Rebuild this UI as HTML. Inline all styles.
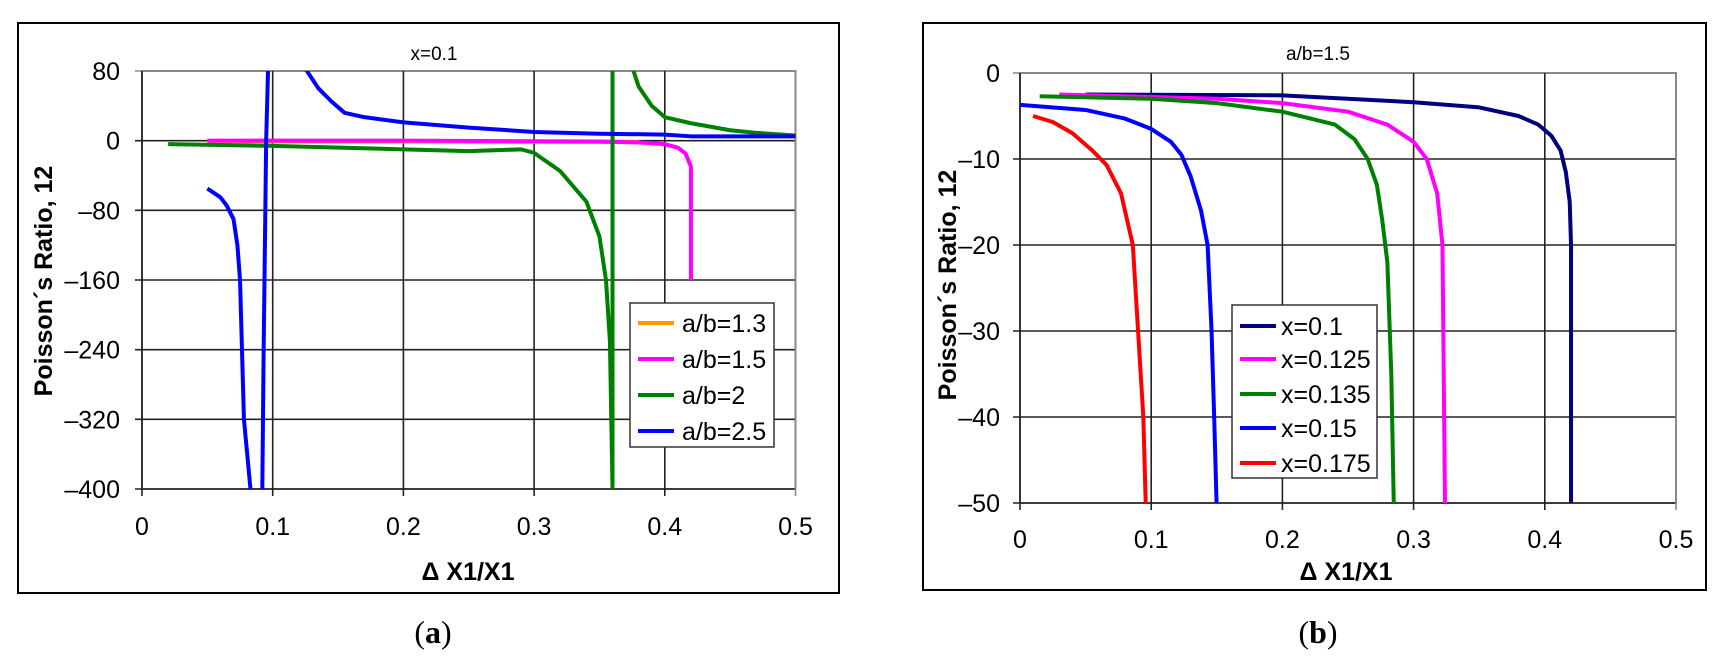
<!DOCTYPE html>
<html><head><meta charset="utf-8"><style>
html,body{margin:0;padding:0;background:#fff;}
svg{display:block;font-family:"Liberation Sans",Arial,sans-serif;}
</style></head><body>
<svg width="1724" height="663" viewBox="0 0 1724 663" xmlns="http://www.w3.org/2000/svg">
<defs>
<clipPath id="ca"><rect x="142" y="71" width="654" height="418"/></clipPath>
<clipPath id="cb"><rect x="1020" y="73" width="656" height="430"/></clipPath>
</defs>
<!-- Chart A -->
<rect x="18" y="23" width="821" height="570" fill="#fff" stroke="#000" stroke-width="2"/>
<rect x="142" y="71" width="653.5" height="418" fill="none" stroke="#888" stroke-width="2"/>
<g stroke="#222" stroke-width="1.6">
<line x1="135" y1="71" x2="795" y2="71" stroke="#888"/>
<line x1="135" y1="140.7" x2="795" y2="140.7"/>
<line x1="135" y1="210.3" x2="795" y2="210.3"/>
<line x1="135" y1="280" x2="795" y2="280"/>
<line x1="135" y1="349.7" x2="795" y2="349.7"/>
<line x1="135" y1="419.3" x2="795" y2="419.3"/>
<line x1="135" y1="489" x2="795" y2="489"/>
<line x1="142" y1="71" x2="142" y2="496"/>
<line x1="272.7" y1="71" x2="272.7" y2="496"/>
<line x1="403.4" y1="71" x2="403.4" y2="496"/>
<line x1="534.1" y1="71" x2="534.1" y2="496"/>
<line x1="664.8" y1="71" x2="664.8" y2="496"/>
<line x1="795.5" y1="71" x2="795.5" y2="496" stroke="#888"/>
</g>
<g clip-path="url(#ca)"><g transform="matrix(1307 0 0 -0.87083 142 140.67)" fill="none" stroke-width="4" stroke-linejoin="round" vector-effect="non-scaling-stroke">
<polyline vector-effect="non-scaling-stroke" stroke="#ff9900" points="0.05,-1 0.2,-1 0.38,-1.5"/>
<polyline vector-effect="non-scaling-stroke" stroke="#ff00ff" points="0.05,0 0.2,0 0.35,-1 0.38,-2 0.40,-4 0.41,-8 0.416,-15 0.42,-30 0.42,-160"/>
<polyline vector-effect="non-scaling-stroke" stroke="#008000" points="0.02,-4 0.1,-6 0.2,-10 0.25,-12 0.29,-10 0.30,-14 0.32,-35 0.34,-70 0.35,-110 0.355,-160 0.358,-230 0.36,-400"/>
<line vector-effect="non-scaling-stroke" stroke="#008000" x1="0.36" y1="90" x2="0.36" y2="-410"/>
<polyline vector-effect="non-scaling-stroke" stroke="#008000" points="0.375,85 0.38,62 0.39,40 0.40,27 0.42,20 0.45,12 0.47,9 0.5,6"/>
<polyline vector-effect="non-scaling-stroke" stroke="#0000ff" points="0.05,-55 0.06,-65 0.065,-75 0.07,-90 0.073,-120 0.075,-160 0.078,-320 0.083,-400"/>
<polyline vector-effect="non-scaling-stroke" stroke="#0000ff" points="0.092,-410 0.093,-250 0.095,0 0.0965,85"/>
<polyline vector-effect="non-scaling-stroke" stroke="#0000ff" points="0.124,85 0.135,60 0.145,45 0.155,32 0.17,27 0.2,21 0.25,15 0.3,10 0.35,8 0.4,7 0.42,5 0.5,5"/>
</g></g>
<g font-size="25" text-anchor="end" fill="#000">
<text x="120" y="80">80</text><text x="120" y="149.7">0</text><text x="120" y="219.3">–80</text>
<text x="120" y="289">–160</text><text x="120" y="358.7">–240</text><text x="120" y="428.3">–320</text><text x="120" y="498">–400</text>
</g>
<g font-size="25" text-anchor="middle">
<text x="142" y="535">0</text><text x="272.7" y="535">0.1</text><text x="403.4" y="535">0.2</text>
<text x="534.1" y="535">0.3</text><text x="664.8" y="535">0.4</text><text x="795.5" y="535">0.5</text>
</g>
<text x="434" y="60" font-size="19" text-anchor="middle">x=0.1</text>
<text x="468" y="580" font-size="25" font-weight="bold" text-anchor="middle">Δ X1/X1</text>
<text transform="translate(52,281) rotate(-90)" font-size="25" font-weight="bold" text-anchor="middle">Poisson´s Ratio, 12</text>
<rect x="630" y="303" width="144" height="144" fill="#fff" stroke="#333" stroke-width="1.5"/>
<g stroke-width="4"><line x1="638" y1="323" x2="674" y2="323" stroke="#ff9900"/><line x1="638" y1="359" x2="674" y2="359" stroke="#ff00ff"/><line x1="638" y1="395" x2="674" y2="395" stroke="#008000"/><line x1="638" y1="431" x2="674" y2="431" stroke="#0000ff"/></g>
<g font-size="25"><text x="682" y="332">a/b=1.3</text><text x="682" y="368">a/b=1.5</text><text x="682" y="404">a/b=2</text><text x="682" y="440">a/b=2.5</text></g>
<text x="433" y="643" font-size="32" text-anchor="middle" font-family="Liberation Serif,serif">(<tspan font-weight="bold">a</tspan>)</text>

<!-- Chart B -->
<rect x="923" y="23" width="783" height="567" fill="#fff" stroke="#000" stroke-width="2"/>
<rect x="1020" y="73" width="656" height="430" fill="none" stroke="#888" stroke-width="2"/>
<g stroke="#222" stroke-width="1.6">
<line x1="1013" y1="73" x2="1676" y2="73" stroke="#888"/>
<line x1="1013" y1="159" x2="1676" y2="159"/>
<line x1="1013" y1="245" x2="1676" y2="245"/>
<line x1="1013" y1="331" x2="1676" y2="331"/>
<line x1="1013" y1="417" x2="1676" y2="417"/>
<line x1="1013" y1="503" x2="1676" y2="503"/>
<line x1="1020" y1="73" x2="1020" y2="510"/>
<line x1="1151.2" y1="73" x2="1151.2" y2="510"/>
<line x1="1282.4" y1="73" x2="1282.4" y2="510"/>
<line x1="1413.6" y1="73" x2="1413.6" y2="510"/>
<line x1="1544.8" y1="73" x2="1544.8" y2="510"/>
<line x1="1676" y1="73" x2="1676" y2="510" stroke="#888"/>
</g>
<g clip-path="url(#cb)"><g transform="matrix(1312 0 0 -8.6 1020 73)" fill="none" stroke-width="4" stroke-linejoin="round">
<polyline vector-effect="non-scaling-stroke" stroke="#000080" points="0.05,-2.5 0.2,-2.6 0.3,-3.4 0.35,-4 0.38,-5 0.395,-6 0.405,-7.3 0.412,-9 0.416,-11.5 0.419,-15 0.42,-20 0.42,-51"/>
<polyline vector-effect="non-scaling-stroke" stroke="#ff00ff" points="0.03,-2.5 0.15,-3 0.2,-3.5 0.25,-4.5 0.28,-6 0.3,-8 0.31,-10 0.318,-14 0.322,-20 0.324,-51"/>
<polyline vector-effect="non-scaling-stroke" stroke="#008000" points="0.015,-2.7 0.1,-3 0.15,-3.5 0.2,-4.5 0.24,-6 0.255,-7.7 0.265,-10 0.272,-13 0.276,-17 0.28,-22 0.283,-35 0.285,-51"/>
<polyline vector-effect="non-scaling-stroke" stroke="#0000ff" points="0,-3.7 0.05,-4.3 0.08,-5.3 0.1,-6.5 0.115,-8 0.123,-9.5 0.13,-12 0.138,-16 0.143,-20 0.146,-30 0.148,-40 0.15,-51"/>
<polyline vector-effect="non-scaling-stroke" stroke="#ff0000" points="0.01,-5 0.025,-5.7 0.04,-7 0.055,-9 0.066,-10.7 0.077,-14 0.086,-20 0.09,-30 0.094,-40 0.096,-51"/>
</g></g>
<g font-size="25" text-anchor="end">
<text x="1000" y="82">0</text><text x="1000" y="168">–10</text><text x="1000" y="254">–20</text>
<text x="1000" y="340">–30</text><text x="1000" y="426">–40</text><text x="1000" y="512">–50</text>
</g>
<g font-size="25" text-anchor="middle">
<text x="1020" y="548">0</text><text x="1151.2" y="548">0.1</text><text x="1282.4" y="548">0.2</text>
<text x="1413.6" y="548">0.3</text><text x="1544.8" y="548">0.4</text><text x="1676" y="548">0.5</text>
</g>
<text x="1318" y="60" font-size="19" text-anchor="middle">a/b=1.5</text>
<text x="1346" y="580" font-size="25" font-weight="bold" text-anchor="middle">Δ X1/X1</text>
<text transform="translate(956,285) rotate(-90)" font-size="25" font-weight="bold" text-anchor="middle">Poisson´s Ratio, 12</text>
<rect x="1232" y="305" width="145" height="173" fill="#fff" stroke="#333" stroke-width="1.5"/>
<g stroke-width="4"><line x1="1240" y1="326" x2="1276" y2="326" stroke="#000080"/><line x1="1240" y1="359" x2="1276" y2="359" stroke="#ff00ff"/><line x1="1240" y1="394" x2="1276" y2="394" stroke="#008000"/><line x1="1240" y1="428" x2="1276" y2="428" stroke="#0000ff"/><line x1="1240" y1="463" x2="1276" y2="463" stroke="#ff0000"/></g>
<g font-size="25"><text x="1281" y="335">x=0.1</text><text x="1281" y="368">x=0.125</text><text x="1281" y="403">x=0.135</text><text x="1281" y="437">x=0.15</text><text x="1281" y="472">x=0.175</text></g>
<text x="1318" y="643" font-size="32" text-anchor="middle" font-family="Liberation Serif,serif">(<tspan font-weight="bold">b</tspan>)</text>
</svg>
</body></html>
